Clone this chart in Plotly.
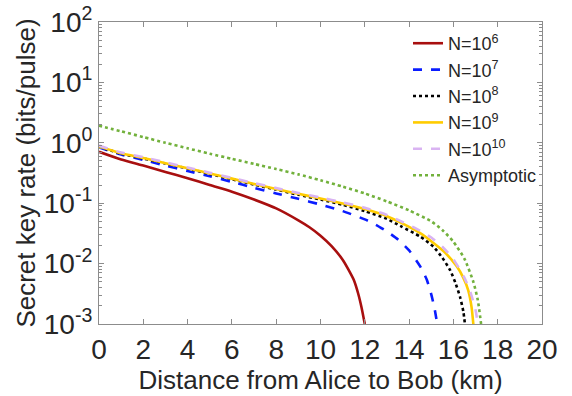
import plotly.graph_objects as go

# distances (km) and key rates (bits/pulse)
x_n6 = [0, 1, 2, 3, 4, 5, 6, 7, 8, 9, 9.5, 10, 10.5, 11, 11.25, 11.5, 11.7, 11.85, 12.0]
y_n6 = [0.71, 0.53, 0.42, 0.33, 0.26, 0.20, 0.155, 0.115, 0.082, 0.052, 0.04, 0.029, 0.0195, 0.0116, 0.0081, 0.0054, 0.0032, 0.0019, 0.001]

x_n7 = [0, 1, 2, 3, 4, 5, 6, 7, 8, 9, 10, 11, 12, 12.5, 13, 13.5, 14, 14.5, 14.8, 15.0, 15.15, 15.27]
y_n7 = [0.84, 0.64, 0.52, 0.42, 0.34, 0.28, 0.225, 0.18, 0.145, 0.118, 0.095, 0.074, 0.054, 0.044, 0.034, 0.025, 0.0165, 0.009, 0.0054, 0.0031, 0.0018, 0.001]

x_n8 = [0, 1, 2, 3, 4, 5, 6, 7, 8, 9, 10, 11, 12, 13, 13.6, 14.5, 15.1, 15.5, 15.85, 16.1, 16.3, 16.45, 16.52]
y_n8 = [0.86, 0.66, 0.55, 0.455, 0.375, 0.305, 0.25, 0.203, 0.168, 0.138, 0.115, 0.094, 0.074, 0.055, 0.042, 0.028, 0.019, 0.0125, 0.0078, 0.0047, 0.0028, 0.0016, 0.001]

x_n9 = [0, 1, 2, 3, 4, 5, 6, 7, 8, 9, 10, 11, 12, 13, 13.6, 14.5, 15.1, 15.6, 16.15, 16.45, 16.67, 16.82, 16.9]
y_n9 = [0.87, 0.67, 0.56, 0.46, 0.38, 0.31, 0.255, 0.208, 0.172, 0.143, 0.12, 0.099, 0.08, 0.061, 0.048, 0.032, 0.022, 0.0155, 0.009, 0.0058, 0.0036, 0.0019, 0.001]

x_n10 = [0, 1, 2, 3, 4, 5, 6, 7, 8, 9, 10, 11, 12, 13, 13.6, 14.5, 15.0, 15.5, 16.0, 16.5, 16.8, 17.0, 17.1]
y_n10 = [0.90, 0.69, 0.58, 0.475, 0.39, 0.32, 0.262, 0.215, 0.178, 0.148, 0.124, 0.103, 0.084, 0.064, 0.051, 0.035, 0.027, 0.019, 0.0118, 0.0058, 0.0031, 0.0017, 0.001]

x_asym = [0, 1, 2, 3, 4, 5, 6, 7, 8, 9, 10, 11, 12, 13, 14, 15, 15.5, 16.0, 16.5, 16.9, 17.1, 17.25]
y_asym = [1.92, 1.55, 1.245, 1.0, 0.81, 0.66, 0.543, 0.447, 0.367, 0.30, 0.24, 0.188, 0.145, 0.107, 0.076, 0.05, 0.036, 0.023, 0.012, 0.005, 0.0025, 0.001]

names = ["N=10<sup>6</sup>", "N=10<sup>7</sup>", "N=10<sup>8</sup>", "N=10<sup>9</sup>", "N=10<sup>10</sup>", "Asymptotic"]
colors = ["#a80f0f", "#0a1cff", "#000000", "#ffcc00", "#d9b3f2", "#72b13c"]
dashes = ["solid", "dash", "dot", "solid", "dash", "dot"]
xs = [x_n6, x_n7, x_n8, x_n9, x_n10, x_asym]
ys = [y_n6, y_n7, y_n8, y_n9, y_n10, y_asym]

x_ticks = [0, 2, 4, 6, 8, 10, 12, 14, 16, 18, 20]
y_ticks = [1e-3, 1e-2, 1e-1, 1, 10, 100]
y_ticktext = ["10<sup>-3</sup>", "10<sup>-2</sup>", "10<sup>-1</sup>", "10<sup>0</sup>", "10<sup>1</sup>", "10<sup>2</sup>"]
y_minor = [m * d for d in [1e-3, 1e-2, 1e-1, 1, 10] for m in range(2, 10)]

fig = go.Figure()
for x, y, n, c, d in zip(xs, ys, names, colors, dashes):
    fig.add_trace(go.Scatter(x=x, y=y, name=n, mode="lines",
                             line=dict(color=c, width=2.6, dash=d, shape="spline", smoothing=0.6)))

font = "Liberation Sans, Arial, sans-serif"
axis_common = dict(showline=True, linecolor="#8c8c8c", linewidth=1, mirror="ticks",
                   ticks="inside", tickcolor="#8c8c8c", showgrid=False, zeroline=False,
                   automargin=False,
                   tickfont=dict(family=font, size=28, color="#262626"))
fig.update_layout(
    width=572, height=396,
    margin=dict(l=99, r=30, t=22, b=72),
    paper_bgcolor="white", plot_bgcolor="white",
    font=dict(family=font, color="#262626"),
    xaxis=dict(range=[0, 20], tickvals=x_ticks, ticklen=5,
               title=dict(text="Distance from Alice to Bob (km)", font=dict(size=26), standoff=0),
               **axis_common),
    yaxis=dict(type="log", range=[-3, 2], tickvals=y_ticks, ticktext=y_ticktext, ticklen=5,
               minor=dict(ticks="inside", ticklen=3, tickcolor="#8c8c8c", tickvals=y_minor),
               title=dict(text="Secret key rate (bits/pulse)", font=dict(size=26), standoff=0),
               **axis_common),
    legend=dict(x=1.0, y=0.99, xanchor="right", yanchor="top", bgcolor="rgba(0,0,0,0)",
                font=dict(size=18, color="#262626"), itemwidth=30, tracegroupgap=0),
    showlegend=True,
)
fig.write_html("out.html", config={"displayModeBar": False},
               post_script="document.body.style.margin='0';")
